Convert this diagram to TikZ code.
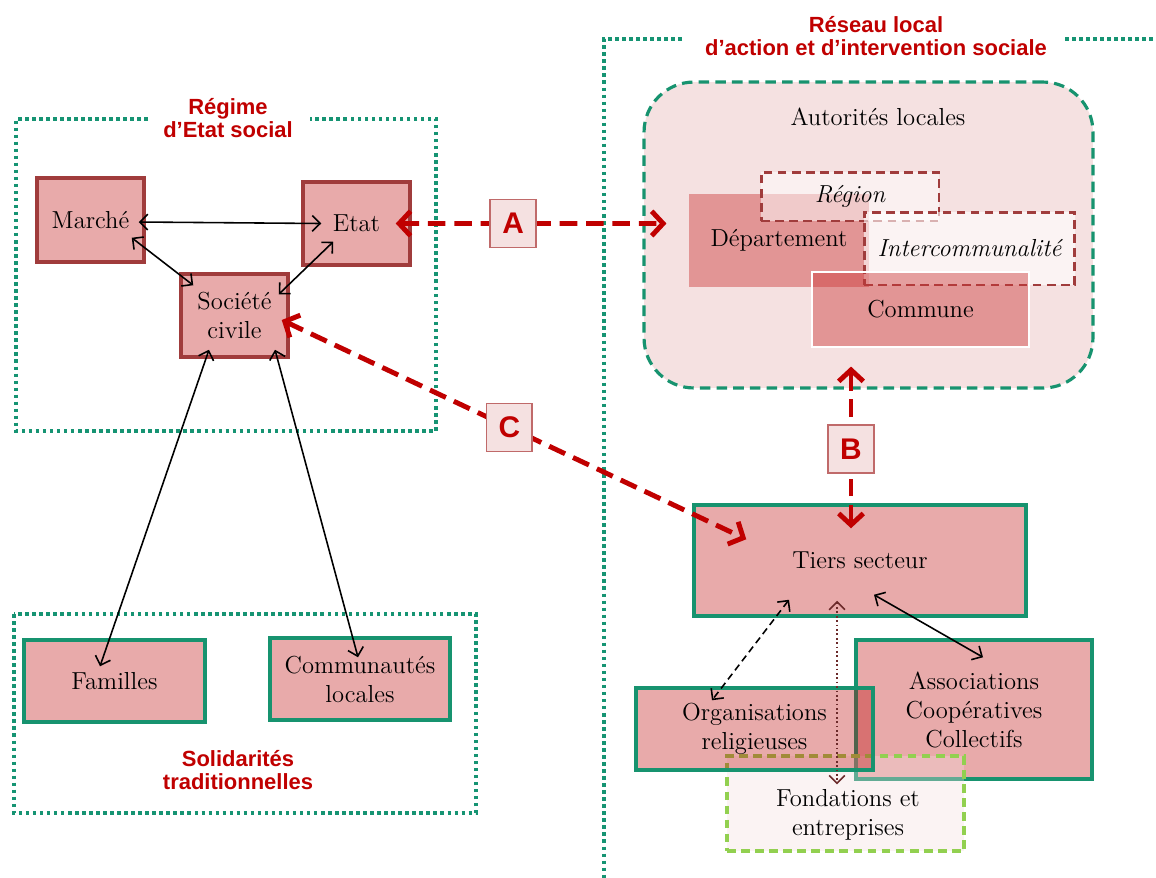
\documentclass[tikz,border=0pt]{standalone}
\usepackage{fontspec}
\usepackage{tikz}
\usetikzlibrary{arrows.meta}

\newfontfamily\titlefont{Liberation Sans}

\definecolor{titlered}{HTML}{C00000}
\definecolor{boxpink}{HTML}{E8AAAA}
\definecolor{boxred}{HTML}{A03C3C}
\definecolor{boxgreen}{HTML}{17936F}
\definecolor{framegreen}{HTML}{169473}
\definecolor{paleback}{HTML}{F5E1E1}
\definecolor{levelred}{HTML}{CC3A3A}
\definecolor{limegreen}{HTML}{92D050}
\definecolor{letterline}{HTML}{C06A6A}
\definecolor{dotbrown}{HTML}{6B2A2A}
\definecolor{orgsred}{RGB}{189,12,12}
\definecolor{fondfill}{RGB}{243,220,220}

\begin{document}
\begin{tikzpicture}[x=0.02cm, y=-0.02cm, font=\fontsize{14}{16.5}\selectfont,
                redlink/.style={draw=titlered, line width=2.8pt, dash pattern=on 10pt off 5pt, <->, >={Straight Barb[length=6.5pt,width=14pt]}},
                blacklink/.style={black, line width=0.9pt, <->, >={Straight Barb[length=4.5pt,width=9pt]}},
                letterbox/.style={solid, draw=letterline, fill=paleback, line width=1pt, minimum width=0.92cm, minimum height=0.96cm, inner sep=0pt, text=titlered, font=\titlefont\bfseries\fontsize{17}{20}\selectfont}]
                \useasboundingbox (0,0) rectangle (1156,877);
                \clip (0,0) rectangle (1156,877);

                % dotted frames
                \begin{scope}[framegreen, line width=2pt, dash pattern=on 2pt off 2pt]
                        \draw (148,119) -- (16,119) -- (16,431) -- (436,431) -- (436,119) -- (310,119);
                        \draw (14,614) rectangle (476,813);
                        \draw (682,39) -- (604,39) -- (604,885);
                        \draw (1065,39) -- (1165,39);
                \end{scope}

                \begin{scope}[every node/.style={titlered, align=center, font=\titlefont\bfseries\fontsize{12.5}{13.6}\selectfont}]
                        \node (regime) at (228,118) {Régime\\d’Etat social};
                        \node (reseau) at (876,36) {Réseau local\\d’action et d’intervention sociale};
                        \node (solidarites) at (238,770) {Solidarités\\traditionnelles};
                \end{scope}

                % Etat social
                \begin{scope}[every node/.style={draw=boxred, fill=boxpink, line width=2pt, align=center, inner sep=2pt}]
                        \node [minimum width=2.14cm, minimum height=1.68cm] (marche) at (90.5,220) {Marché};
                        \node [minimum width=2.14cm, minimum height=1.66cm] (etat) at (356.5,223.5) {Etat};
                        \node [minimum width=2.14cm, minimum height=1.66cm] (societe) at (234.5,315.5) {Société\\civile};
                \end{scope}
                \begin{scope}[every node/.style={draw=boxgreen, fill=boxpink, line width=2pt, align=center, inner sep=2pt}]
                        \node [minimum width=3.62cm, minimum height=1.64cm] (familles) at (114.5,681) {Familles};
                        \node [minimum width=3.6cm, minimum height=1.64cm] (communautes) at (360,679) {Communautés\\locales};
                \end{scope}

                % autorites locales
                \node [draw=boxgreen, fill=paleback, line width=1.8pt, dash pattern=on 6pt off 3.5pt, rounded corners=1cm, minimum width=8.98cm, minimum height=6.12cm] (autorites) at (868.5,235) {};
                \node (autolabel) at (878,117) {Autorités locales};
                \begin{scope}[every node/.style={text opacity=1, inner sep=2pt}]
                        \node [fill=levelred, fill opacity=0.45, minimum width=3.6cm, minimum height=1.86cm] (departement) at (779,240.5) {Département};
                        \node [draw=boxred, line width=1.7pt, dash pattern=on 5pt off 3pt, fill=white, fill opacity=0.5, draw opacity=1, minimum width=3.56cm, minimum height=0.98cm] (region) at (850,196.5) {\itshape Région};
                        \node [draw=boxred, line width=1.7pt, dash pattern=on 5pt off 3pt, fill=white, fill opacity=0.6, draw opacity=1, minimum width=4.22cm, minimum height=1.46cm] (interco) at (969.5,248.5) {\itshape Intercommunalité};
                        \node [fill=levelred, fill opacity=0.45, draw=white, draw opacity=1, line width=0.8pt, minimum width=4.34cm, minimum height=1.5cm] (commune) at (920.5,309.5) {Commune};
                \end{scope}

                % tiers secteur
                \begin{scope}[every node/.style={draw=boxgreen, line width=2pt, align=center, inner sep=2pt, text opacity=1}]
                        \node [fill=boxpink, minimum width=6.64cm, minimum height=2.22cm] (tiers) at (860,560.5) {Tiers secteur};
                        \node [fill=boxpink, minimum width=4.72cm, minimum height=2.78cm] (associations) at (974,709.5) {Associations\\Coopératives\\Collectifs};
                        \node [draw=limegreen, line width=1.8pt, dash pattern=on 5pt off 3pt, fill=fondfill, fill opacity=0.34, draw opacity=1, minimum width=4.74cm, minimum height=1.9cm] (fondations) at (845.5,803.5) {};
                        \node [fill=orgsred, fill opacity=0.35, draw opacity=1, minimum width=4.74cm, minimum height=1.64cm] (organisations) at (754.5,729) {Organisations\\religieuses};
                \end{scope}
                \node [align=center] (fondtext) at (848,815) {Fondations et\\entreprises};

                % links
                \begin{scope}[every path/.style={blacklink}]
                        \path ([shift={(-7,2)}]marche.east) edge ([shift={(20,0)}]etat.west);
                        \path ([shift={(-14,-26)}]marche.south east) edge ([shift={(14,13)}]societe.north west);
                        \path ([shift={(32,-25)}]etat.south west) edge ([shift={(-11,22)}]societe.north east);
                        \path ([shift={(-25.5,-9)}]societe.south) edge ([shift={(-14.5,28)}]familles.north);
                        \path ([shift={(40.5,-9)}]societe.south) edge ([shift={(-2,21)}]communautes.north);
                        \path ([shift={(14,-23)}]tiers.south) edge ([shift={(9,19)}]associations.north);
                        \path ([shift={(-71,-18)}]tiers.south) edge [dash pattern=on 4pt off 2.5pt] ([shift={(-42.5,14)}]organisations.north);
                        \path ([shift={(-23,-17)}]tiers.south) edge [dotbrown, dash pattern=on 1pt off 1.5pt] ([shift={(-8.5,30)}]fondations.north);
                \end{scope}

                \draw [redlink] ([shift={(-16,0)}]etat.east) -- node [letterbox, pos=0.434] (lettera) {A} ([shift={(24,-11.5)}]autorites.west);
                \draw [redlink] ([shift={(-9,25)}]tiers.north) -- node [letterbox, pos=0.488] (letterb) {B} ([shift={(-17.5,-23)}]autorites.south);
                \draw [redlink] ([shift={(-8,4.5)}]societe.east) -- node [letterbox, pos=0.49] (letterc) {C} ([shift={(54,36)}]tiers.north west);
\end{tikzpicture}
\end{document}
